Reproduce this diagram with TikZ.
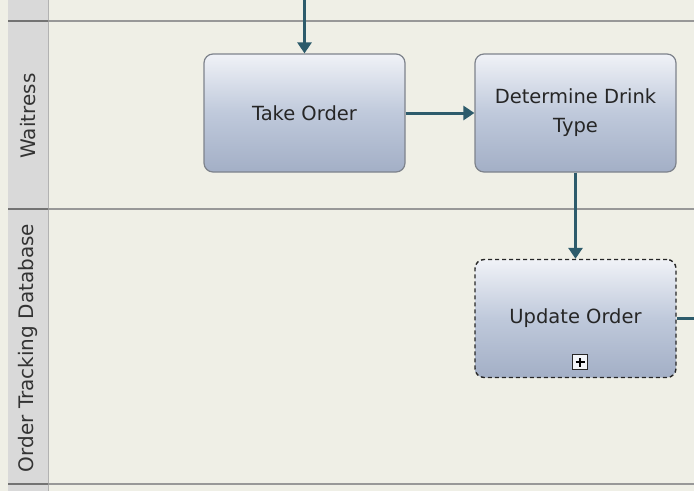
\documentclass[tikz,border=0pt]{standalone}
\usepackage{fontspec}
\setmainfont{DejaVu Sans}
\usetikzlibrary{arrows.meta}
\definecolor{bgc}{HTML}{EFEFE6}
\definecolor{hdrc}{HTML}{D9D9D9}
\definecolor{lanec}{HTML}{989898}
\definecolor{flowc}{HTML}{2D5B6B}
\definecolor{boxtop}{HTML}{F0F2F7}
\definecolor{boxmid}{HTML}{BFC9DB}
\definecolor{boxbot}{HTML}{A3AFC6}
\definecolor{boxedge}{HTML}{7E838C}
\tikzset{
  taskbox/.style={rectangle, rounded corners=9pt, minimum width=201pt, minimum height=118pt,
    draw=boxedge, line width=1.2pt, top color=boxtop, bottom color=boxbot, middle color=boxmid,
    align=center, font=\fontsize{19.5}{29}\selectfont, text=black!85},
  subbox/.style={taskbox, draw=black!85, dashed, dash pattern=on 4pt off 3pt, line width=1.4pt},
  flow/.style={draw=flowc, line width=3pt, -{Triangle[width=14pt,length=11pt]}},
  flowplain/.style={draw=flowc, line width=3pt},
  lanelabel/.style={rotate=90, font=\fontsize{20}{24}\selectfont, text=black!80},
  laneline/.style={draw=lanec, line width=1.2pt},
  hdrline/.style={draw=black!55, line width=2.4pt}
}
\begin{document}
\begin{tikzpicture}[x=1pt, y=-1pt]
\useasboundingbox (0,0) rectangle (694,491);
% background
\fill[bgc] (0,0) rectangle (694,491);
\fill[hdrc] (8,0) rectangle (48,491);
\draw[black!30, line width=0.6pt] (48,0) -- (48,491);
% lane lines
\draw[laneline] (48,21) -- (694,21);
\draw[laneline] (48,209) -- (694,209);
\draw[laneline] (48,484) -- (694,484);
\draw[hdrline] (8,21) -- (48,21);
\draw[hdrline] (8,209) -- (48,209);
\draw[hdrline] (8,484) -- (48,484);
% lane labels
\node[lanelabel] (lw) at (28,116) {Waitress};
\node[lanelabel] (lo) at (28,348) {Order Tracking Database};
% tasks
\node[taskbox] (take) at (304.5,113) {Take Order};
\node[taskbox] (det) at (575.5,113) {Determine Drink\\Type};
\node[subbox] (upd) at (575.5,318.5) {Update Order};
% collapsed sub-process marker
\node[draw=black!85, line width=1.2pt, fill=white!80!boxmid, minimum width=15pt, minimum height=15pt, inner sep=0pt] (plus) at (580,362) {};
\draw[black, line width=2.6pt] ([xshift=-4.5pt]plus.center) -- ([xshift=4.5pt]plus.center);
\draw[black, line width=2.6pt] ([yshift=-4.5pt]plus.center) -- ([yshift=4.5pt]plus.center);
% connectors
\coordinate (start) at (304.5,0);
\coordinate (out) at (694,318.5);
\draw[flow] (start) -- (take.north);
\draw[flow] (take.east) -- (det.west);
\draw[flow] (det.south) -- (upd.north);
\draw[flowplain] (upd.east) -- (out);
\end{tikzpicture}
\end{document}
